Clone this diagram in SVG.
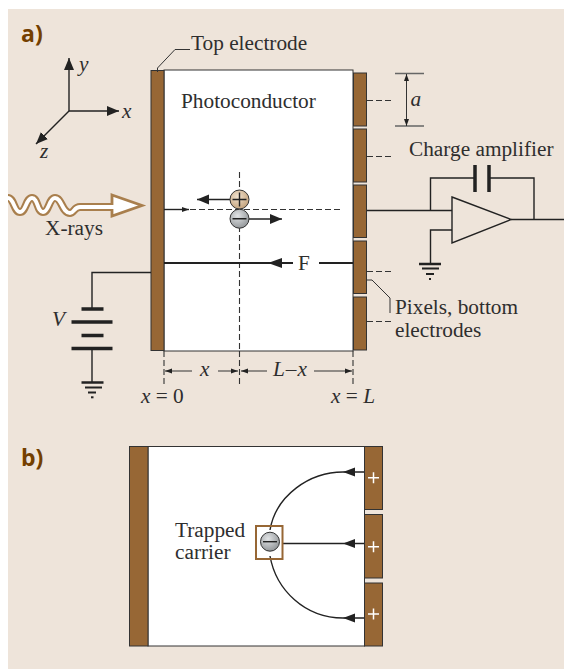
<svg xmlns="http://www.w3.org/2000/svg" width="564" height="669" viewBox="0 0 564 669">
<defs>
<style>
.t{font-family:"Liberation Serif","Times New Roman",serif;font-size:21.300px;fill:#2e2e2e}
.i{font-style:italic}
.h{font-family:"Open Sans","Noto Sans",sans-serif;font-weight:700;font-size:23px;fill:#743f00}
.e{fill:#976735;stroke:#333;stroke-width:1}
.l{fill:none;stroke:#222;stroke-width:1.4}
.thin{fill:none;stroke:#333;stroke-width:1}
.d{fill:none;stroke:#333;stroke-width:1.1;stroke-dasharray:6 3}
.g{stroke:#222;stroke-linecap:butt}
</style>
<marker id="a" markerUnits="userSpaceOnUse" markerWidth="14" markerHeight="12" refX="12" refY="5" orient="auto-start-reverse"><path d="M0 0L12 5L0 10z" fill="#222"/></marker>
<marker id="s" markerUnits="userSpaceOnUse" markerWidth="8" markerHeight="6" refX="7" refY="3" orient="auto-start-reverse"><path d="M0 .5L7 3L0 5.500z" fill="#222"/></marker>
<radialGradient id="ball" cx=".4" cy=".35" r=".7"><stop offset="0" stop-color="#e2e4e6"/><stop offset="1" stop-color="#8f9396"/></radialGradient>
<radialGradient id="ballp" cx=".4" cy=".35" r=".7"><stop offset="0" stop-color="#f0e2cf"/><stop offset="1" stop-color="#c2a079"/></radialGradient>
</defs>
<rect x="8" y="9" width="556" height="660" fill="#eee4da"/>
<text class="h" x="21" y="42">a)</text>
<text class="h" x="21" y="466">b)</text>

<g id="axes">
<path class="l" d="M69 111V58" marker-end="url(#a)"/>
<path class="l" d="M69 111H119" marker-end="url(#a)"/>
<path class="l" d="M69 111L36 144" marker-end="url(#a)"/>
<text class="t i" x="79" y="71">y</text>
<text class="t i" x="122" y="118">x</text>
<text class="t i" x="40" y="158">z</text>
</g>

<g id="photoconductor">
<rect x="164" y="70" width="189" height="281" fill="#fff" stroke="#333" stroke-width="1"/>
<text class="t" x="181" y="108">Photoconductor</text>
</g>
<g id="top-electrode">
<rect class="e" x="151" y="70.500" width="13" height="280"/>
<path class="thin" d="M157.500 72V68L175 49.500H190"/>
<text class="t" x="191" y="50">Top electrode</text>
</g>
<g id="pixels">
<rect class="e" x="353.500" y="73" width="13" height="53"/>
<rect class="e" x="353.500" y="129" width="13" height="53"/>
<rect class="e" x="353.500" y="185" width="13" height="52.500"/>
<rect class="e" x="353.500" y="241" width="13" height="52.500"/>
<rect class="e" x="353.500" y="297" width="13" height="53"/>
<path class="d" d="M367 100.500H393M367 156.500H393M367 271.500H393M367 321.500H393"/>
<path class="thin" d="M367 280H372L390 298V313"/>
<text class="t" x="395" y="314">Pixels, bottom</text>
<text class="t" x="395" y="337">electrodes</text>
</g>
<g id="pitch">
<path d="M395 73.500H424M395 126H424" fill="none" stroke="#666" stroke-width="1.400"/>
<path class="thin" d="M406.500 74V126" marker-start="url(#s)" marker-end="url(#s)"/>
<text class="t i" x="410.500" y="106">a</text>
</g>

<g id="xrays">
<path d="M8 198C14 198 14 212 20 212C26 212 26 198 32 198C38 198 37 212 43 212C49 212 49 198 55 198C62 198 62 213 70 213C74 213 74 207 80 207H114" fill="none" stroke="#a97f4d" stroke-width="8"/>
<path d="M112 195L142 205.500L112 216z" fill="#fff" stroke="#a97f4d" stroke-width="2.800"/>
<path d="M8 198C14 198 14 212 20 212C26 212 26 198 32 198C38 198 37 212 43 212C49 212 49 198 55 198C62 198 62 213 70 213C74 213 74 207 80 207H118" fill="none" stroke="#fff" stroke-width="3.800"/>
<text class="t" x="45" y="235">X-rays</text>
</g>

<g id="carriers">
<path class="d" d="M239.500 172V351"/>
<path class="d" d="M190 209.500H342"/>
<path class="l" d="M164 209.500H189" marker-end="url(#s)"/>
<path class="l" d="M231 199.500H197" marker-end="url(#a)"/>
<path class="l" d="M247 219H282" marker-end="url(#a)"/>
<circle cx="239.500" cy="199.500" r="9.500" fill="url(#ballp)" stroke="#333"/>
<circle cx="239.500" cy="218.700" r="9.500" fill="url(#ball)" stroke="#333"/>
<path class="l" d="M232.500 199.500H246.500M239.500 192.500V206.500M232.500 218.700H246.500"/>
</g>
<g id="field">
<path d="M164 263H293M319 263H353" fill="none" stroke="#222" stroke-width="2"/>
<path d="M282 258L268 263L282 268z" fill="#222"/>
<text class="t" x="298" y="270">F</text>
</g>

<g id="battery">
<path class="l" d="M151 272.500H92V308"/>
<path class="g" d="M81.500 309H103.500M71.500 322H112.500M81.500 335.500H103.500M71.500 348.500H112.500" stroke-width="3.500"/>
<path class="l" d="M92 349V382"/>
<path class="g" d="M81.500 382.500H103.500" stroke-width="2.500"/>
<path class="g" d="M85 387.500H102" stroke-width="2"/>
<path class="g" d="M88 392.500H96" stroke-width="2"/>
<path class="g" d="M91 397.300H93.500" stroke-width="2"/>
<text class="t i" x="52" y="326">V</text>
</g>

<g id="dimensions">
<path class="d" d="M164 351V385M239.500 351V385M353 351V385"/>
<path class="thin" d="M165 371H192" marker-start="url(#s)"/>
<path class="thin" d="M218 371H238" marker-end="url(#s)"/>
<path class="thin" d="M241 371H267" marker-start="url(#s)"/>
<path class="thin" d="M314 371H352" marker-end="url(#s)"/>
<text class="t i" x="200" y="376">x</text>
<text class="t" x="273" y="376"><tspan class="i">L</tspan><tspan dx="1">–</tspan><tspan class="i" dx="1">x</tspan></text>
<text class="t" x="141" y="403"><tspan class="i">x</tspan> = 0</text>
<text class="t" x="331" y="403"><tspan class="i">x</tspan> = <tspan class="i">L</tspan></text>
</g>

<g id="amplifier">
<text class="t" x="409" y="156">Charge amplifier</text>
<path class="l" d="M367 210.500H452M430.500 210.500V178H475M488 178H534V219.500M511 219.500H564M452 230H430.500V264"/>
<path d="M452 197L511 219.500L452 243z" fill="none" stroke="#222" stroke-width="1.400"/>
<path class="g" d="M475 165V192M489 165V192" stroke-width="3.500"/>
<path class="g" d="M419 264H441" stroke-width="2.500"/>
<path class="g" d="M422 268.500H439" stroke-width="2"/>
<path class="g" d="M426 274H434" stroke-width="2"/>
<path class="g" d="M429 279H431" stroke-width="2"/>
</g>

<g id="panel-b">
<rect x="148" y="446.500" width="216.500" height="199.500" fill="#fff" stroke="#333" stroke-width="1"/>
<rect class="e" x="129.500" y="446.500" width="18.500" height="199.500"/>
<rect class="e" x="364.500" y="446.500" width="18" height="63"/>
<rect class="e" x="364.500" y="514.500" width="18" height="63.500"/>
<rect class="e" x="364.500" y="583" width="18" height="63"/>
<path d="M368 477.700H379M373.500 472.200V483.200M368 546.700H379M373.500 541.200V552.200M368 614H379M373.500 608.500V619.500" stroke="#fff" stroke-width="1.500" fill="none"/>
<text class="t" x="175" y="537">Trapped</text>
<text class="t" x="175" y="559">carrier</text>
<path class="l" d="M270 530C276 495 310 472 343 472H364M270 556C276 590 305 618 343 618H364M282 543.500H364"/>
<path d="M355 467.500L343 472L355 476.500zM355 539L343 543.500L355 548zM355 613.500L343 618L355 622.500z" fill="#222"/>
<rect x="256" y="526" width="26.500" height="33" fill="none" stroke="#976735" stroke-width="2"/>
<circle cx="270" cy="541.700" r="9.500" fill="url(#ball)" stroke="#333"/>
<path class="l" d="M263 541.700H277"/>
</g>
</svg>
